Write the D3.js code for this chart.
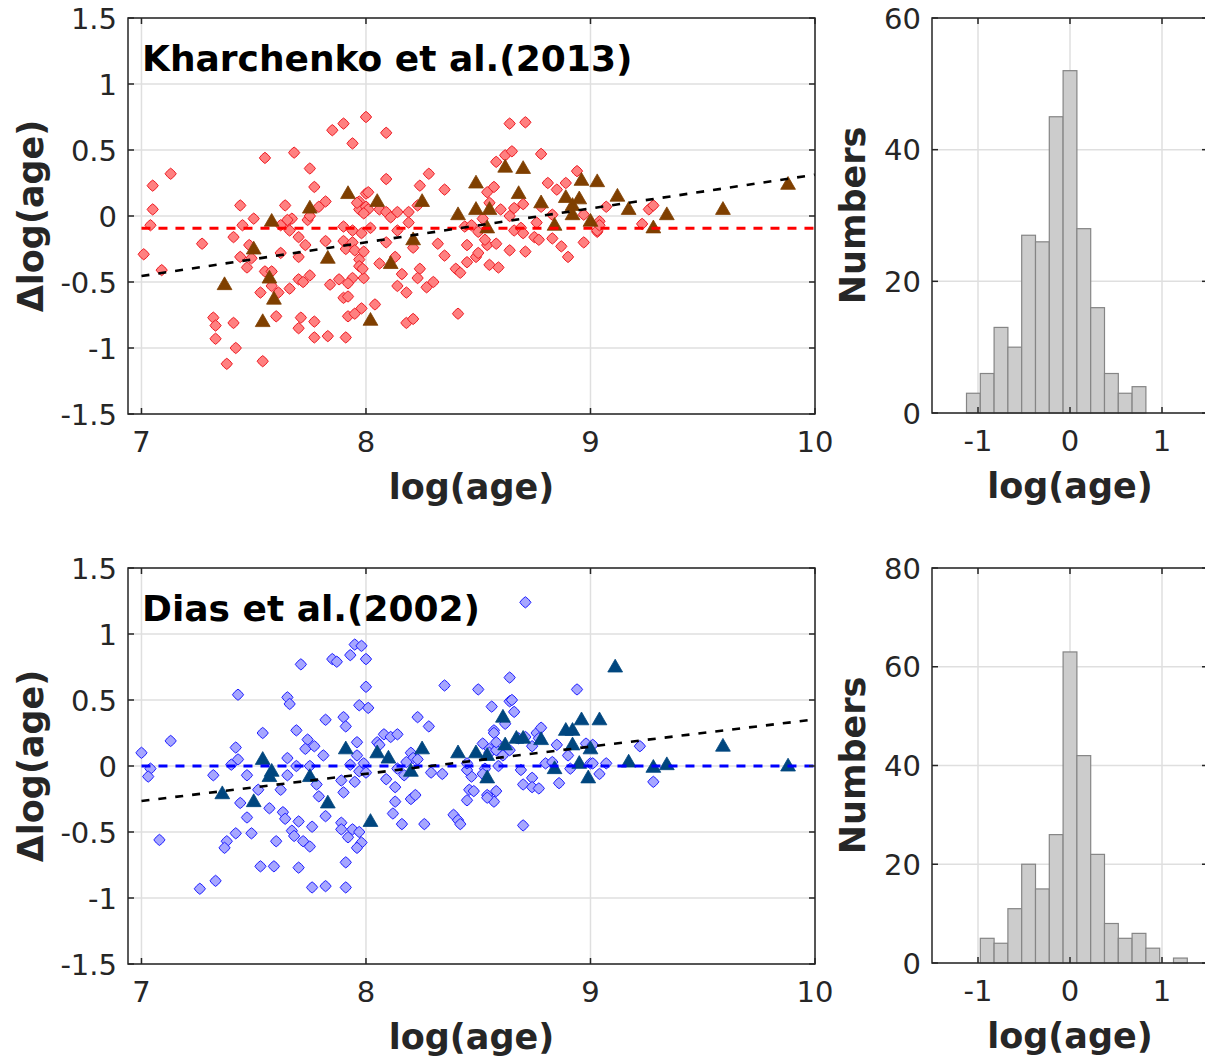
<!DOCTYPE html>
<html><head><meta charset="utf-8">
<script src="https://cdn.jsdelivr.net/npm/d3@7"></script>
<style>
html,body{margin:0;padding:0;background:#fff;}
svg{display:block;}
text{font-family:"DejaVu Sans",sans-serif;}
</style></head>
<body>
<svg id="chart" width="1205" height="1063"></svg>
<script>
// ---------------- DATA ----------------
const xTicks = [7, 8, 9, 10];
const yTicks = [-1.5, -1, -0.5, 0, 0.5, 1, 1.5];
const histXTicks = [-1, 0, 1];
const histYTicksTop = [0, 20, 40, 60];
const histYTicksBottom = [0, 20, 40, 60, 80];
const binEdges = [-1.125,-0.975,-0.825,-0.675,-0.525,-0.375,-0.225,-0.075,0.075,0.225,0.375,0.525,0.675,0.825,0.975,1.125,1.275];
const kharCounts = [3,6,13,10,27,26,45,52,28,16,6,3,4,0,0,0];
const diasCounts = [0,5,4,11,20,15,26,63,42,22,8,5,6,3,0,1];

const kharCircles = [
[7.01,-0.29],[7.04,-0.07],[7.05,0.05],[7.05,0.23],[7.13,0.32],[7.09,-0.41],[7.27,-0.21],[7.32,-0.77],[7.33,-0.83],[7.33,-0.93],
[7.38,-1.12],[7.42,-1.00],[7.41,-0.81],[7.44,0.08],[7.41,-0.16],[7.45,-0.07],[7.44,-0.31],[7.48,-0.22],[7.47,-0.39],[7.50,-0.02],
[7.49,-0.32],[7.55,0.44],[7.55,-0.42],[7.58,-0.42],[7.53,-0.58],[7.58,-0.53],[7.61,-0.58],[7.60,-0.76],[7.54,-1.10],[7.62,-0.28],
[7.64,0.08],[7.67,-0.02],[7.64,-0.06],[7.66,-0.11],[7.70,-0.16],[7.70,-0.31],[7.68,0.48],[7.75,0.36],[7.77,0.22],[7.73,-0.22],
[7.75,-0.45],[7.70,-0.48],[7.72,-0.50],[7.66,-0.55],[7.71,-0.77],[7.70,-0.85],[7.77,-0.80],[7.77,-0.92],[7.83,-0.91],[7.91,-0.92],
[7.84,-0.52],[7.88,-0.48],[7.82,-0.19],[7.82,0.11],[7.79,0.07],[7.74,-0.03],[7.75,0.00],[7.85,0.65],[7.90,0.70],[7.94,0.55],
[8.00,0.75],[7.90,-0.08],[7.90,-0.19],[7.91,-0.25],[7.94,-0.11],[7.94,-0.20],[7.95,-0.26],[7.97,-0.33],[7.97,-0.38],[7.99,-0.47],
[7.94,-0.47],[7.92,-0.51],[7.90,-0.62],[7.92,-0.61],[7.92,-0.76],[7.95,-0.74],[7.98,-0.70],[7.97,0.11],[7.97,0.05],[8.00,0.07],
[8.00,0.17],[7.98,-0.13],[7.65,-0.03],[7.62,-0.07],[7.96,0.10],
[8.09,0.63],[8.01,0.18],[8.09,0.28],[8.24,0.23],[8.28,0.32],[8.35,0.20],[8.01,0.05],[7.99,0.02],[8.06,0.05],[8.09,0.03],
[8.11,-0.01],[8.14,0.03],[8.19,0.03],[8.19,-0.05],[8.14,-0.11],[8.02,-0.09],[8.09,-0.20],[8.21,-0.24],[8.32,-0.21],[8.35,-0.30],
[8.23,0.08],[7.99,-0.27],[7.985,-0.40],[8.06,-0.36],[8.13,-0.31],[8.16,-0.44],[8.24,-0.40],[8.23,-0.47],[8.14,-0.53],[8.18,-0.58],
[8.27,-0.54],[8.30,-0.50],[8.04,-0.67],[8.18,-0.81],[8.21,-0.78],[8.40,-0.40],[8.42,-0.43],[8.41,-0.74],[8.45,-0.35],[8.49,-0.31],
[8.50,-0.28],[8.45,-0.22],[8.55,-0.37],[8.59,-0.39],[8.54,-0.22],[8.58,-0.21],[8.64,-0.26],[8.71,-0.27],[8.53,-0.18],[8.50,-0.12],
[8.44,-0.08],[8.47,-0.07],[8.52,-0.02],[8.60,0.05],[8.66,0.06],[8.70,0.09],[8.54,0.18],[8.57,0.22],[8.55,0.10],[8.58,0.41],
[8.62,0.46],[8.65,0.49],[8.64,0.70],[8.71,0.71],[8.78,0.47],[8.66,-0.11],[8.69,-0.09],[8.70,-0.13],[8.75,-0.16],[8.77,-0.18],
[8.83,-0.17],[8.87,-0.23],[8.90,-0.31],[8.97,-0.20],[8.78,0.07],[8.81,0.25],[8.85,0.20],[8.89,0.25],[8.83,0.01],[8.76,-0.05],
[8.94,0.34],[8.97,0.01],[9.03,-0.12],[9.04,-0.04],[8.64,0.00],
[9.07,0.07],[9.26,0.05],[9.28,0.08],[9.23,-0.06],[9.03,-0.11],[9.04,-0.07]
];
const kharTriangles = [
[7.92,0.17],[7.75,0.06],[7.58,-0.04],[7.50,-0.25],[7.83,-0.32],[7.37,-0.52],[7.57,-0.47],[7.59,-0.63],[7.54,-0.80],[8.02,-0.79],
[8.05,0.11],[8.25,0.11],[8.21,-0.18],[8.11,-0.36],[8.41,0.01],[8.49,0.25],[8.49,0.05],[8.55,0.05],[8.54,-0.09],[8.62,0.37],
[8.70,0.36],[8.68,0.17],[8.78,0.10],[8.84,-0.07],[8.89,0.14],[8.92,0.08],[8.92,0.01],[8.96,0.27],[8.95,0.13],[9.00,-0.04],
[9.03,0.26],[9.12,0.15],[9.17,0.05],[9.34,0.01],[9.28,-0.09],[9.59,0.05],[9.88,0.24]
];
const kharFit = [[7.0,-0.455],[10.0,0.313]];
const kharMean = [[7.0,-0.093],[10.0,-0.093]];

const diasCircles = [
[7.00,0.10],[7.04,-0.02],[7.03,-0.08],[7.13,0.19],[7.08,-0.56],[7.26,-0.93],[7.33,-0.87],[7.43,0.54],[7.42,0.14],[7.43,0.05],
[7.40,0.01],[7.32,-0.07],[7.44,-0.28],[7.47,-0.39],[7.42,-0.51],[7.49,-0.51],[7.38,-0.57],[7.37,-0.62],[7.47,-0.07],[7.52,-0.18],
[7.54,0.25],[7.57,-0.32],[7.62,-0.18],[7.60,-0.57],[7.53,-0.76],[7.59,-0.76],[7.65,0.52],[7.66,0.47],[7.69,0.27],[7.71,0.77],
[7.65,0.06],[7.65,-0.07],[7.69,0.00],[7.63,-0.35],[7.64,-0.40],[7.70,-0.42],[7.67,-0.49],[7.68,-0.53],[7.72,-0.57],[7.75,-0.61],
[7.70,-0.77],[7.76,-0.92],[7.82,-0.91],[7.91,-0.92],[7.91,-0.73],[7.74,0.20],[7.73,0.13],[7.77,0.15],[7.75,0.00],[7.81,0.08],
[7.78,-0.14],[7.79,-0.23],[7.82,-0.38],[7.76,-0.46],[7.82,0.35],[7.90,0.37],[7.91,0.30],[7.85,0.81],[7.87,0.79],[7.93,0.84],
[7.95,0.92],[7.98,0.91],[8.00,0.81],[8.00,0.60],[7.97,0.46],[8.01,0.44],[7.96,0.18],[7.96,0.08],[7.93,0.01],[7.99,0.02],
[7.97,-0.04],[7.95,-0.12],[7.89,-0.11],[8.00,-0.05],[7.90,-0.20],[7.89,-0.43],[7.89,-0.48],[7.92,-0.54],[7.94,-0.48],[7.97,-0.50],
[7.98,-0.58],[7.96,-0.62],[8.05,0.18],
[8.71,1.24],[8.35,0.61],[8.50,0.58],[8.64,0.67],[8.94,0.58],[8.64,0.49],[8.65,0.50],[8.66,0.41],[8.56,0.45],[8.23,0.37],
[8.28,0.30],[8.57,0.27],[8.57,0.25],[8.62,0.32],[8.08,0.24],[8.11,0.22],[8.14,0.24],[8.06,0.16],[8.20,0.10],[8.21,0.06],
[8.18,0.03],[8.23,0.05],[8.14,-0.02],[8.17,-0.07],[8.09,-0.10],[8.13,-0.16],[8.29,-0.05],[8.34,-0.06],[8.13,-0.27],[8.20,-0.25],
[8.22,-0.22],[8.12,-0.36],[8.16,-0.44],[8.26,-0.44],[8.39,-0.37],[8.41,-0.41],[8.42,-0.44],[8.45,-0.26],[8.46,-0.18],[8.48,-0.19],
[8.47,-0.08],[8.45,-0.03],[8.45,0.02],[8.52,0.17],[8.55,0.13],[8.55,0.10],[8.58,0.12],[8.58,0.18],[8.53,-0.02],[8.52,-0.06],
[8.54,-0.22],[8.58,-0.19],[8.57,-0.27],[8.54,-0.24],[8.59,0.00],[8.61,0.08],[8.64,0.12],[8.69,-0.03],[8.70,-0.14],[8.74,-0.09],
[8.74,-0.16],[8.77,-0.17],[8.70,-0.45],[8.68,0.21],[8.71,0.22],[8.76,0.25],[8.78,0.29],[8.77,0.21],[8.74,0.15],[8.80,0.02],
[8.83,0.03],[8.85,0.16],[8.86,-0.13],[8.90,0.08],[8.91,-0.02],[8.98,0.17],[9.00,0.02],[9.01,0.02],[9.04,-0.06],[9.07,0.02],
[9.22,0.15],[9.01,0.16],[9.28,-0.12]
];
const diasTriangles = [
[7.54,0.05],[7.58,-0.04],[7.57,-0.08],[7.36,-0.21],[7.50,-0.27],[7.75,-0.08],[7.83,-0.28],[7.91,0.13],[8.02,-0.42],[8.05,0.10],
[8.10,0.06],[8.20,-0.04],[8.25,0.13],[8.41,0.10],[8.49,0.10],[8.54,0.08],[8.54,-0.09],[8.61,0.37],[8.62,0.16],[8.67,0.21],
[8.70,0.21],[8.78,0.20],[8.89,0.27],[8.92,0.27],[8.96,0.35],[9.04,0.35],[8.84,-0.02],[8.92,0.16],[8.95,0.02],[8.99,-0.09],
[9.00,0.13],[9.11,0.75],[9.59,0.15],[9.17,0.03],[9.28,-0.01],[9.34,0.01],[9.88,0.00]
];
const diasFit = [[7.0,-0.265],[10.0,0.353]];
const diasMean = [[7.0,0.0],[10.0,0.0]];

const titles = ["Kharchenko et al.(2013)", "Dias et al.(2002)"];

// ---------------- DRAWING ----------------
const svg = d3.select("#chart");
const AX = "#262626", GRID = "#dfdfdf";
const TICKFONT = 29, LABFONT = 35;

const diamond = "M0,-5.6L3.1,-3.1L5.6,0L3.1,3.1L0,5.6L-3.1,3.1L-5.6,0L-3.1,-3.1Z";
const triangle = "M0,-7.8L7.4,5L-7.4,5Z";

function frame(g, x, y, gridX, gridY) {
  const [x0, x1] = x.range(), [y1, y0] = y.range();
  g.append("g").selectAll("line").data(gridX).join("line")
    .attr("x1", d => x(d)).attr("x2", d => x(d)).attr("y1", y0).attr("y2", y1)
    .attr("stroke", GRID).attr("stroke-width", 1.5);
  g.append("g").selectAll("line").data(gridY).join("line")
    .attr("y1", d => y(d)).attr("y2", d => y(d)).attr("x1", x0).attr("x2", x1)
    .attr("stroke", GRID).attr("stroke-width", 1.5);
}
function box(g, x, y, xt, yt) {
  const [x0, x1] = x.range(), [y1, y0] = y.range();
  const tl = 6;
  const tg = g.append("g").attr("stroke", AX).attr("stroke-width", 1.5);
  xt.forEach(d => {
    tg.append("line").attr("x1", x(d)).attr("x2", x(d)).attr("y1", y1).attr("y2", y1 - tl);
    tg.append("line").attr("x1", x(d)).attr("x2", x(d)).attr("y1", y0).attr("y2", y0 + tl);
  });
  yt.forEach(d => {
    tg.append("line").attr("y1", y(d)).attr("y2", y(d)).attr("x1", x0).attr("x2", x0 + tl);
    tg.append("line").attr("y1", y(d)).attr("y2", y(d)).attr("x1", x1).attr("x2", x1 - tl);
  });
  g.append("rect").attr("x", x0).attr("y", y0).attr("width", x1 - x0).attr("height", y1 - y0)
    .attr("fill", "none").attr("stroke", AX).attr("stroke-width", 1.5);
  g.append("g").selectAll("text").data(xt).join("text")
    .attr("x", d => x(d)).attr("y", y1 + 38).attr("text-anchor", "middle")
    .attr("font-size", TICKFONT).attr("fill", AX).text(d => String(d));
  g.append("g").selectAll("text").data(yt).join("text")
    .attr("x", x0 - 11).attr("y", d => y(d) + 10.5).attr("text-anchor", "end")
    .attr("font-size", TICKFONT).attr("fill", AX).text(d => String(d));
}
function labels(g, x, y, xlab, ylab, ylabX) {
  const [x0, x1] = x.range(), [y1, y0] = y.range();
  g.append("text").attr("x", (x0 + x1) / 2).attr("y", y1 + 85).attr("text-anchor", "middle")
    .attr("font-size", LABFONT).attr("font-weight", "bold").attr("fill", AX).text(xlab);
  g.append("text").attr("transform", `translate(${ylabX},${(y0 + y1) / 2}) rotate(-90)`)
    .attr("text-anchor", "middle").attr("font-size", LABFONT).attr("font-weight", "bold")
    .attr("fill", AX).text(ylab);
}

const panels = [
  {top: 18, bottom: 414, circles: kharCircles, tris: kharTriangles, fit: kharFit, mean: kharMean,
   cFill: "#ff8080", cStroke: "#ee1c24", tFill: "#7f3f00", meanCol: "#ff0000", title: titles[0],
   counts: kharCounts, hmax: 60, hticks: histYTicksTop},
  {top: 568, bottom: 964, circles: diasCircles, tris: diasTriangles, fit: diasFit, mean: diasMean,
   cFill: "#a6a6ff", cStroke: "#1f1fff", tFill: "#00467f", meanCol: "#0000ff", title: titles[1],
   counts: diasCounts, hmax: 80, hticks: histYTicksBottom}
];

panels.forEach((p, i) => {
  const g = svg.append("g");
  const x = d3.scaleLinear().domain([6.94, 10]).range([128, 815]);
  const y = d3.scaleLinear().domain([-1.5, 1.5]).range([p.bottom, p.top]);
  frame(g, x, y, xTicks, yTicks);

  const clipId = "clip" + i;
  svg.append("clipPath").attr("id", clipId).append("rect")
    .attr("x", 128).attr("y", p.top).attr("width", 815 - 128).attr("height", p.bottom - p.top);
  const dg = g.append("g").attr("clip-path", `url(#${clipId})`);

  dg.append("g").selectAll("path").data(p.circles).join("path")
    .attr("d", diamond).attr("transform", d => `translate(${x(d[0])},${y(d[1])})`)
    .attr("fill", p.cFill).attr("stroke", p.cStroke).attr("stroke-width", 1).attr("stroke-linejoin", "round");
  dg.append("g").selectAll("path").data(p.tris).join("path")
    .attr("d", triangle).attr("transform", d => `translate(${x(d[0])},${y(d[1])})`)
    .attr("fill", p.tFill).attr("stroke", p.tFill).attr("stroke-width", 0.8);

  const line = d3.line().x(d => x(d[0])).y(d => y(d[1]));
  dg.append("path").datum(p.mean).attr("d", line).attr("fill", "none")
    .attr("stroke", p.meanCol).attr("stroke-width", 3).attr("stroke-dasharray", "9,8");
  dg.append("path").datum(p.fit).attr("d", line).attr("fill", "none")
    .attr("stroke", "#000").attr("stroke-width", 2.6).attr("stroke-dasharray", "8,9");

  box(g, x, y, xTicks, yTicks);
  labels(g, x, y, "log(age)", "\u0394log(age)", 43);
  g.append("text").attr("x", 142).attr("y", p.top + 53).attr("font-size", 36)
    .attr("font-weight", "bold").attr("fill", "#000").text(p.title);

  // histogram
  const hg = svg.append("g");
  const hx = d3.scaleLinear().domain([-1.5, 1.5]).range([932, 1208]);
  const hy = d3.scaleLinear().domain([0, p.hmax]).range([p.bottom - 1, p.top]);
  frame(hg, hx, hy, histXTicks, p.hticks);
  const bins = p.counts.map((c, k) => ({x0: binEdges[k], x1: binEdges[k + 1], c})).filter(b => b.c > 0);
  hg.append("g").selectAll("rect").data(bins).join("rect")
    .attr("x", b => hx(b.x0)).attr("width", b => hx(b.x1) - hx(b.x0))
    .attr("y", b => hy(b.c)).attr("height", b => hy(0) - hy(b.c))
    .attr("fill", "#cccccc").attr("stroke", "#858585").attr("stroke-width", 1.2);
  box(hg, hx, hy, histXTicks, p.hticks);
  labels(hg, hx, hy, "log(age)", "Numbers", 865);
});
</script>
</body></html>
